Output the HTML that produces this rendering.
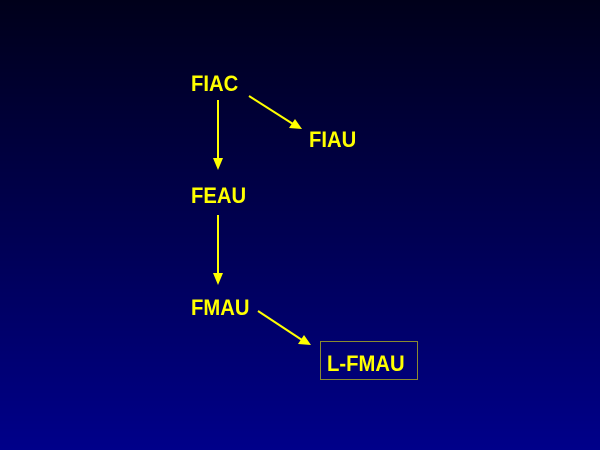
<!DOCTYPE html>
<html><head><style>
body{margin:0;width:600px;height:450px;overflow:hidden;background:linear-gradient(to bottom,#00001a 0%,#000050 50%,#00008a 100%);font-family:"Liberation Sans",sans-serif;}
.t{position:absolute;color:#ffff00;font-weight:bold;font-size:22px;line-height:22px;transform:scaleX(0.92);transform-origin:left top;}
</style></head><body>
<div class="t" style="left:191px;top:73px">FIAC</div>
<div class="t" style="left:309px;top:129px">FIAU</div>
<div class="t" style="left:191px;top:185px">FEAU</div>
<div class="t" style="left:191px;top:297px">FMAU</div>
<div style="position:absolute;left:320px;top:341px;width:96px;height:37px;border:1px solid #8a8a30"></div>
<div class="t" style="left:327px;top:353px">L-FMAU</div>
<svg width="600" height="450" style="position:absolute;left:0;top:0">
<g stroke="#ffff00" stroke-width="2" fill="#ffff00">
<line x1="218" y1="100" x2="218" y2="160"/>
<polygon points="213,158 223,158 218,170" stroke="none"/>
<line x1="218" y1="215" x2="218" y2="275"/>
<polygon points="213,273 223,273 218,285" stroke="none"/>
<line x1="249" y1="96" x2="293" y2="124"/>
<polygon points="302,129 289,128 295,119" stroke="none"/>
<line x1="258" y1="311" x2="302" y2="340"/>
<polygon points="311,345 298,344 304,335" stroke="none"/>
</g></svg>
</body></html>
